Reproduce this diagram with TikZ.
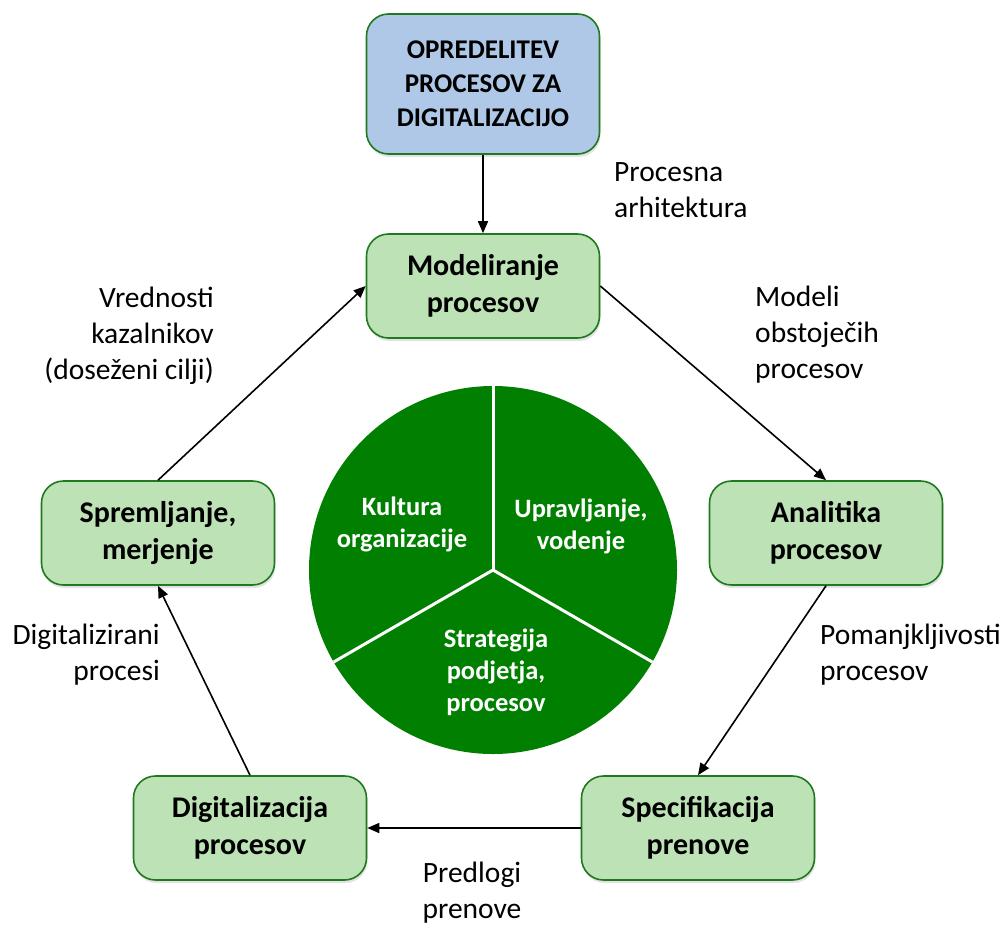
\documentclass[tikz,border=0pt]{standalone}
\usepackage{fontspec}
\setmainfont{Carlito}
\usepackage{tikz}
\usetikzlibrary{arrows.meta,shadows}

\definecolor{boxfill}{HTML}{BDE2B5}
\definecolor{topfill}{HTML}{AFC8E7}
\definecolor{boxline}{HTML}{1F7A1F}
\definecolor{piegreen}{HTML}{007F00}

\begin{document}
\begin{tikzpicture}[
  x=1pt, y=-1pt,
  pbox/.style={draw=boxline,line width=1.6pt,rectangle,rounded corners=22pt,
    fill=boxfill,minimum width=233pt,minimum height=104pt,align=center,
    font=\fontsize{30}{37}\selectfont\bfseries,
    drop shadow={opacity=0.22,shadow xshift=1pt,shadow yshift=-3pt}},
  lbl/.style={inner sep=0pt,font=\fontsize{29.5}{36}\selectfont},
  ptext/.style={text=white,align=center,font=\fontsize{26.5}{32}\selectfont\bfseries},
  flow/.style={-{Triangle[length=12pt,width=10pt]},line width=1.6pt}
]
  \useasboundingbox (0,0) rectangle (1008,926);

  % circle in the middle
  \fill[piegreen] (493,570) circle (184);
  \draw[white,line width=3pt] (493,570) -- ++(-90:184);
  \draw[white,line width=3pt] (493,570) -- ++(30:184);
  \draw[white,line width=3pt] (493,570) -- ++(150:184);
  \node[ptext] (kult) at (402,524) {Kultura\\organizacije};
  \node[ptext] (uprav) at (581,526) {Upravljanje,\\vodenje};
  \node[ptext] (strat) at (496,672) {Strategija\\podjetja,\\procesov};

  % process boxes
  \node[pbox,fill=topfill,minimum height=140pt,
    font=\fontsize{27}{34}\selectfont\bfseries] (opred) at (483,84)
    {OPREDELITEV\\PROCESOV ZA\\DIGITALIZACIJO};
  \node[pbox] (model) at (483,286) {Modeliranje\\procesov};
  \node[pbox] (anal) at (826,533) {Analitika\\procesov};
  \node[pbox] (spec) at (698,828) {Specifikacija\\prenove};
  \node[pbox] (digi) at (250,828) {Digitalizacija\\procesov};
  \node[pbox] (sprem) at (158,533) {Spremljanje,\\merjenje};

  % edges
  \draw[flow] (opred) -- (model);
  \draw[flow] (model.east) -- (anal.north);
  \draw[flow] (anal.south) -- (spec.north);
  \draw[flow] (spec.west) -- (digi.east);
  \draw[flow] (digi.north) -- (sprem.south);
  \draw[flow] (sprem.north) -- (model.west);

  % edge texts
  \node[lbl,anchor=west,align=left] (arh) at (614,190) {Procesna\\arhitektura};
  \node[lbl,anchor=west,align=left] (obst) at (755,335) {Modeli\\obstoječih\\procesov};
  \node[lbl,anchor=west,align=left] (poman) at (820,655) {Pomanjkljivosti\\procesov};
  \node[lbl,align=center] (predl) at (472,893) {Predlogi\\prenove};
  \node[lbl,anchor=east,align=right] (digp) at (160,655) {Digitalizirani\\procesi};
  \node[lbl,anchor=east,align=right] (vred) at (214,336) {Vrednosti\\kazalnikov\\(doseženi cilji)};

\end{tikzpicture}
\end{document}
